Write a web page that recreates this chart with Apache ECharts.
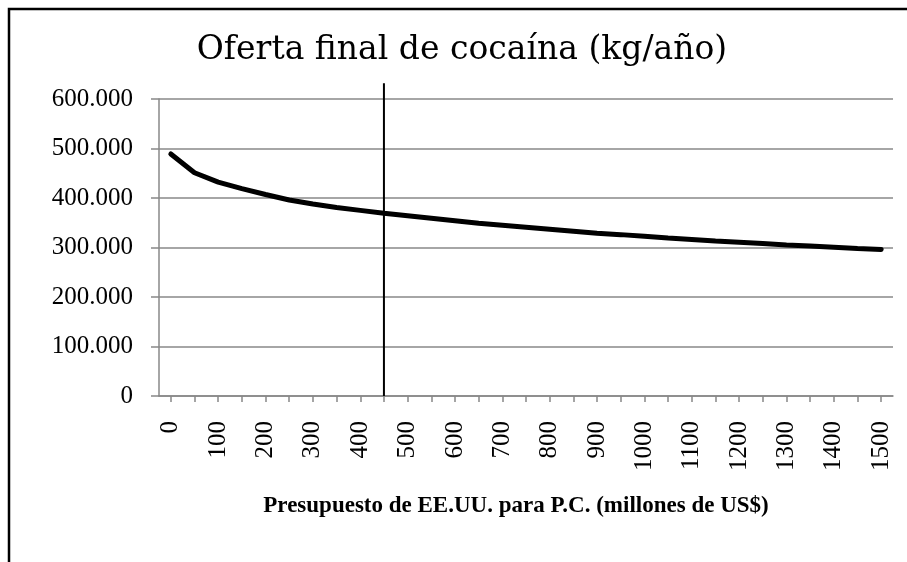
<!DOCTYPE html>
<html>
<head>
<meta charset="utf-8">
<script src="https://cdn.jsdelivr.net/npm/echarts@6/dist/echarts.min.js"></script>
<style>
  html, body { margin: 0; padding: 0; background: #fff; }
  #chart { width: 907px; height: 562px; }
</style>
</head>
<body>
<div id="chart"></div>
<script>
// presupuesto (millones de US$)
var categories = ['0', '50', '100', '150', '200', '250', '300', '350', '400', '450',
    '500', '550', '600', '650', '700', '750', '800', '850', '900', '950',
    '1000', '1050', '1100', '1150', '1200', '1250', '1300', '1350', '1400', '1450', '1500'];
// oferta final (kg/año)
var oferta = [489000, 451000, 432000, 419000, 407000, 396000, 388000, 381000, 375000, 369000,
    364000, 359000, 354000, 349000, 345000, 341000, 337000, 333000, 329000, 326000,
    322500, 319000, 316000, 313000, 310500, 308000, 305000, 303000, 300500, 298000, 296000];
// línea vertical en 450
var corte = [['450', 0], ['450', 632000]];
var yTicks = [0, 100000, 200000, 300000, 400000, 500000, 600000];

var serif = '"Liberation Serif", "DejaVu Serif", serif';
var gris = '#888888';

function miles(v) {
    if (v === 0) return '0';
    var s = String(v);
    return s.replace(/\B(?=(\d{3})+(?!\d))/g, '.');
}

var chart = echarts.init(document.getElementById('chart'));

chart.setOption({
    animation: false,
    backgroundColor: '#fff',
    grid: { left: 159, right: 14, top: 99, bottom: 166 },
    xAxis: {
        type: 'category',
        data: categories,
        boundaryGap: true,
        axisLine: { lineStyle: { color: gris, width: 1.5 } },
        axisTick: { show: true, interval: 0, alignWithLabel: true, length: 6, lineStyle: { color: gris, width: 1.5 } },
        axisLabel: {
            interval: 1, rotate: 90, margin: 25,
            fontFamily: serif, fontSize: 25, color: '#000'
        },
        splitLine: { show: false }
    },
    yAxis: {
        type: 'value',
        min: yTicks[0],
        max: yTicks[yTicks.length - 1],
        interval: 100000,
        axisLine: { show: true, lineStyle: { color: gris, width: 1.5 } },
        axisTick: { show: true, length: 8, lineStyle: { color: gris, width: 1.5 } },
        axisLabel: {
            margin: 26, fontFamily: serif, fontSize: 25, color: '#000',
            formatter: miles
        },
        splitLine: { lineStyle: { color: gris, width: 1.5 } }
    },
    graphic: [
        {
            type: 'rect', silent: true,
            shape: { x: 9, y: 9, width: 1000, height: 1000 },
            style: { fill: 'none', stroke: '#000', lineWidth: 2.5 }
        },
        {
            type: 'text', x: 462, y: 50,
            style: {
                text: 'Oferta final de cocaína (kg/año)',
                font: '33px "DejaVu Serif", serif', fill: '#000',
                textAlign: 'center', textVerticalAlign: 'middle'
            }
        },
        {
            type: 'text', x: 516, y: 506,
            style: {
                text: 'Presupuesto de EE.UU. para P.C. (millones de US$)',
                font: 'bold 23px ' + serif, fill: '#000',
                textAlign: 'center', textVerticalAlign: 'middle'
            }
        }
    ],
    series: [
        {
            name: 'Oferta final',
            type: 'line',
            data: oferta,
            symbol: 'none',
            lineStyle: { color: '#000', width: 5, cap: 'round' }
        },
        {
            name: 'Corte',
            type: 'line',
            data: corte,
            clip: false,
            symbol: 'none',
            lineStyle: { color: '#000', width: 2 }
        }
    ]
});
</script>
</body>
</html>
